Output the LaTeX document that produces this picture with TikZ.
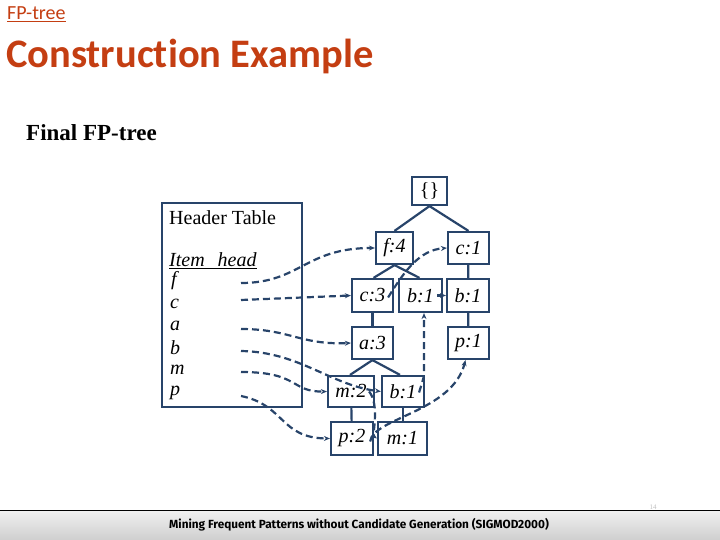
\documentclass[tikz,border=0pt]{standalone}
\usepackage{fontspec}
\setmainfont{Liberation Serif}
\newfontfamily\calfont[Ligatures={NoCommon}]{Carlito}
\newfontfamily\footfont{Fira Sans}
\usetikzlibrary{arrows.meta,calc}
\definecolor{navy}{RGB}{40,68,106}
\definecolor{titlered}{RGB}{196,62,18}
\begin{document}
\begin{tikzpicture}[x=1pt,y=-1pt,
  tnode/.style={draw=navy,line width=2.2pt,inner sep=0pt,font=\fontsize{20}{22}\selectfont\itshape,text=black},
  tedge/.style={draw=navy,line width=2.2pt},
  link/.style={draw=navy,line width=2.2pt,dash pattern=on 7pt off 4pt,-{Stealth[length=6pt,width=5pt]}},
  slink/.style={draw=navy,line width=2.2pt,-{Stealth[length=6pt,width=5pt]}},
  item/.style={anchor=west,inner sep=0pt,font=\fontsize{20}{22}\selectfont\itshape}
]
\useasboundingbox (0,0) rectangle (720,540);
% titles
\node[anchor=west,inner sep=0pt,text=titlered,font=\calfont\fontsize{20}{22}\selectfont] (sub) at (7,14) {\underline{FP-tree}};
\node[anchor=west,inner sep=0pt,text=titlered,font=\calfont\bfseries\fontsize{40.5}{44}\selectfont] (title) at (6,56) {Construction Example};
\node[anchor=west,inner sep=0pt,font=\bfseries\fontsize{23}{26}\selectfont] (final) at (26,133) {Final FP-tree};
% header table
\draw[navy,line width=2.2pt] (162,203) rectangle (302,407);
\node[anchor=west,inner sep=0pt,font=\fontsize{20}{22}\selectfont] (ht) at (169,218) {Header Table};
\node[item] (ih) at (169,261) {\underline{Item\hspace{13pt}head}};
\node[item] (if) at (171,281) {f};
\node[item] (ic) at (170,304) {c};
\node[item] (ia) at (170,326) {a};
\node[item] (ib) at (170,348) {b};
\node[item] (im) at (170,370) {m};
\node[item] (ip) at (170,393) {p};
\coordinate (sf) at (241,283);
\coordinate (sc) at (241,300);
\coordinate (sa) at (241,329);
\coordinate (sb) at (241,351);
\coordinate (sm) at (241,372);
\coordinate (sp) at (241,396);
% tree nodes
\node[tnode,minimum width=35pt,minimum height=28pt,font=\fontsize{20}{22}\selectfont] (root) at (429.5,191) {\{\}};
\node[tnode,minimum width=37pt,minimum height=32pt] (f4) at (394.5,248) {f:4};
\node[tnode,minimum width=41pt,minimum height=32pt] (c1) at (468.5,248) {c:1};
\node[tnode,minimum width=41pt,minimum height=33pt] (c3) at (372.5,295.5) {c:3};
\node[tnode,minimum width=43pt,minimum height=33pt] (b1m) at (420.5,295.5) {b:1};
\node[tnode,minimum width=42pt,minimum height=33pt] (b1r) at (468,295.5) {b:1};
\node[tnode,minimum width=41pt,minimum height=32pt] (a3) at (372.5,343) {a:3};
\node[tnode,minimum width=41pt,minimum height=32pt] (p1) at (468.5,343) {p:1};
\node[tnode,minimum width=46pt,minimum height=31pt] (m2) at (351,391.5) {m:2};
\node[tnode,minimum width=42pt,minimum height=31pt] (b1l) at (403,391.5) {b:1};
\node[tnode,minimum width=42pt,minimum height=33pt] (p2) at (352,438.5) {p:2};
\node[tnode,minimum width=49pt,minimum height=33pt] (m1) at (402.5,438.5) {m:1};
% tree edges
\draw[tedge] (root.south) -- (f4.north);
\draw[tedge] (root.south) -- (c1.north);
\draw[tedge] (f4.south) -- ($(c3.north)+(1,0)$);
\draw[tedge] (f4.south) -- ($(b1m.north)+(-1,0)$);
\draw[tedge] (c1) -- (b1r);
\draw[tedge] (b1r) -- (p1);
\draw[tedge] (c3) -- (a3);
\draw[tedge] (a3.south) -- ($(m2.north)+(-1,0)$);
\draw[tedge] (a3.south) -- ($(b1l.north)+(-3,0)$);
\draw[tedge] (m2) -- (p2);
\draw[tedge] (b1l) -- (b1l |- m1.north);
% node links
\draw[link] (sf) .. controls (300,283) and (305,248) .. (f4.west);
\draw[link] (sc) -- (c3.west);
\draw[link] ($(c3.east)+(-6,2)$) .. controls (405,270) and (420,250) .. (c1.west);
\draw[slink] ($(b1m.east)+(-6,0)$) -- (b1r.west);
\draw[link] (sa) .. controls (290,329) and (300,345) .. (a3.west);
\draw[link] (sb) .. controls (300,352) and (330,385) .. (b1l.west);
\draw[link] ($(b1l.east)+(-6,1)$) .. controls (421,385) and (424,380) .. (424,372) -- ($(b1m.south)+(3.5,0)$);
\draw[link] (sm) .. controls (300,372) and (290,392) .. (m2.west);
\draw[link] ($(m2.east)+(-6,0)$) .. controls (380,405) and (372,435) .. (m1.west);
\draw[link] (sp) .. controls (285,405) and (280,438) .. (p2.west);
\draw[link] ($(p2.east)+(-4,3)$) .. controls (373,418) and (452,412) .. ($(p1.south)+(-3,0)$);
% footer
\shade[top color=gray!12,bottom color=gray!38] (0,511) rectangle (720,540);
\draw[black,line width=1.2pt] (0,510.5) -- (720,510.5);
\node[anchor=west,inner sep=0pt,font=\footfont\bfseries\fontsize{11.8}{13}\selectfont] (foot) at (169,524.5) {Mining Frequent Patterns without Candidate Generation (SIGMOD2000)};
\node[anchor=south,inner sep=0.5pt,text=gray!50,font=\fontsize{7}{8}\selectfont] (pg) at (653,510) {14};
\end{tikzpicture}
\end{document}
